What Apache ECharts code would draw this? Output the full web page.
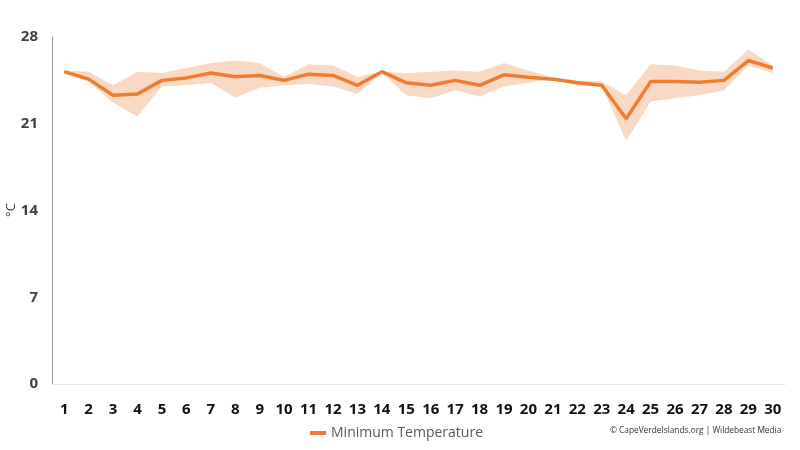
<!DOCTYPE html>
<html>
<head>
<meta charset="utf-8">
<script src="https://cdn.jsdelivr.net/npm/echarts@6/dist/echarts.min.js"></script>
<style>
  html, body { margin: 0; padding: 0; background: #fff; }
  #chart { width: 800px; height: 450px; }
</style>
</head>
<body>
<div id="chart"></div>
<script>
// days of the month
var days = ['1','2','3','4','5','6','7','8','9','10','11','12','13','14','15',
            '16','17','18','19','20','21','22','23','24','25','26','27','28','29','30'];
// average minimum temperature
var minTemp = [25.2, 24.6, 23.3, 23.4, 24.5, 24.7, 25.1, 24.8, 24.9, 24.5,
               25.0, 24.9, 24.1, 25.2, 24.3, 24.1, 24.5, 24.1, 24.95, 24.75,
               24.6, 24.3, 24.1, 21.4, 24.4, 24.4, 24.35, 24.5, 26.1, 25.5];
// range band (lowest / highest minimum)
var bandLow  = [25.1, 24.4, 22.7, 21.6, 24.0, 24.1, 24.3, 23.1, 23.9, 24.1,
                24.2, 24.0, 23.4, 25.1, 23.3, 23.05, 23.7, 23.2, 24.0, 24.3,
                24.6, 24.1, 24.0, 19.6, 22.8, 23.05, 23.3, 23.7, 25.7, 25.1];
var bandHigh = [25.3, 25.2, 24.1, 25.2, 25.1, 25.5, 25.9, 26.1, 25.9, 24.8,
                25.8, 25.7, 24.8, 25.2, 25.1, 25.2, 25.3, 25.2, 25.9, 25.3,
                24.75, 24.5, 24.4, 23.3, 25.8, 25.7, 25.3, 25.2, 27.0, 25.7];
var yTicks = [0, 7, 14, 21, 28];

var bandSpan = bandHigh.map(function (v, i) { return +(v - bandLow[i]).toFixed(2); });

var chart = echarts.init(document.getElementById('chart'));
chart.setOption({
  animation: false,
  textStyle: { fontFamily: 'Open Sans' },
  grid: { left: 52, right: 15, top: 37, bottom: 66, outerBoundsMode: 'none', containLabel: false },
  legend: {
    data: ['Minimum Temperature'],
    bottom: 5,
    left: 305,
    itemWidth: 16,
    itemHeight: 4,
    itemGap: 1,
    icon: 'rect',
    textStyle: { color: '#595959', fontSize: 14, fontFamily: 'Open Sans' }
  },
  graphic: [{
    type: 'text',
    left: 610,
    top: 427,
    style: {
      text: '\u00A9 CapeVerdeIslands.org | Wildebeast Media',
      fill: '#333',
      font: '8.3px "Open Sans"'
    }
  }, {
    // y axis unit
    type: 'text',
    x: 11,
    y: 210,
    rotation: Math.PI / 2,
    style: {
      text: '\u00B0C',
      fill: '#333',
      font: '13px "Open Sans"',
      align: 'center',
      verticalAlign: 'middle'
    }
  }],
  xAxis: {
    type: 'category',
    data: days,
    boundaryGap: true,
    axisLine: { lineStyle: { color: '#e6e6e6' } },
    axisTick: { show: false },
    axisLabel: { color: '#111', fontWeight: 'bold', fontSize: 15, margin: 18 }
  },
  yAxis: {
    type: 'value',
    min: yTicks[0],
    max: yTicks[yTicks.length - 1],
    interval: 7,
    axisLine: { show: true, lineStyle: { color: '#999' } },
    axisTick: { show: false },
    splitLine: { show: false },
    axisLabel: { color: '#404040', fontWeight: 'bold', fontSize: 15, margin: 14 }
  },
  series: [
    {
      name: 'low',
      type: 'line',
      stack: 'band',
      data: bandLow,
      symbol: 'none',
      lineStyle: { opacity: 0 },
      silent: true
    },
    {
      name: 'range',
      type: 'line',
      stack: 'band',
      data: bandSpan,
      symbol: 'none',
      lineStyle: { opacity: 0 },
      areaStyle: { color: '#f9d9c3', opacity: 1 },
      silent: true
    },
    {
      name: 'Minimum Temperature',
      type: 'line',
      data: minTemp,
      symbol: 'none',
      color: '#ED7D31',
      lineStyle: { color: '#ED7D31', width: 3.5 },
      z: 5
    }
  ]
});
</script>
</body>
</html>
